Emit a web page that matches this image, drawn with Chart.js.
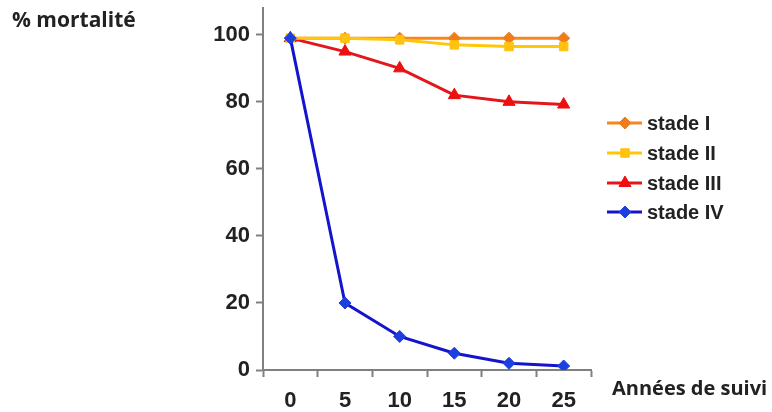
<!DOCTYPE html>
<html><head><meta charset="utf-8">
<script src="https://cdn.jsdelivr.net/npm/chart.js@4"></script>
<style>html,body{margin:0;padding:0;background:#fff}#w{width:772px;height:412px}</style>
</head><body><div id="w"><canvas id="c" width="772" height="412"></canvas></div>
<script>
const categories = ['0','5','10','15','20','25'];
const stadeI   = [99, 99, 99, 99, 99, 99];
const stadeII  = [99, 99, 98.5, 97, 96.5, 96.5];
const stadeIII = [99, 95, 90, 82, 80, 79.2];
const stadeIV  = [99, 20, 10, 5, 2, 1.2];
const seriesNames = ['stade I','stade II','stade III','stade IV'];
const yTicks = [0, 20, 40, 60, 80, 100];

const ds = (label, data, color, mColor, style, r, order) => ({
  label, data, borderColor: color, backgroundColor: mColor, pointBackgroundColor: mColor,
  pointBorderColor: mColor, pointStyle: style, pointRadius: r, pointBorderWidth: 1,
  borderWidth: 3, tension: 0, order
});

const legendPlugin = {
  id: 'customText',
  afterDraw(chart) {
    const ctx = chart.ctx;
    ctx.save();
    ctx.fillStyle = '#222';
    ctx.textBaseline = 'middle';
    ctx.textAlign = 'left';
    ctx.font = 'bold 21px "Open Sans"';
    ctx.fillText('% mortalité', 12, 21);
    ctx.font = 'bold 20px "Open Sans"';
    ctx.fillText('Années de suivi', 612, 389);
    const rows = [123, 153, 183, 212];
    chart.data.datasets.forEach((d, i) => {
      const y = rows[i];
      ctx.strokeStyle = d.borderColor;
      ctx.lineWidth = 3;
      ctx.beginPath(); ctx.moveTo(607, y); ctx.lineTo(642, y); ctx.stroke();
      ctx.fillStyle = d.pointBackgroundColor; ctx.strokeStyle = d.pointBorderColor; ctx.lineWidth = 1;
      Chart.helpers.drawPoint(ctx, {pointStyle: d.pointStyle, radius: d.pointRadius, rotation: 0, borderWidth: 1}, 625, y);
      ctx.fillStyle = '#222';
      ctx.font = 'bold 20px "Liberation Sans"';
      ctx.fillText(d.label, 647, y + 1);
    });
    ctx.restore();
  }
};

new Chart(document.getElementById('c'), {
  type: 'line',
  data: {
    labels: categories,
    datasets: [
      ds(seriesNames[0], stadeI, '#f7861f', '#f07d1a', 'rectRot', 6, 3),
      ds(seriesNames[1], stadeII, '#ffc60a', '#ffc20e', 'rect', 6, 1),
      ds(seriesNames[2], stadeIII, '#e4161c', '#ee1010', 'triangle', 7, 2),
      ds(seriesNames[3], stadeIV, '#1414cc', '#1c3fe0', 'rectRot', 6, 0)
    ]
  },
  options: {
    responsive: false, animation: false, devicePixelRatio: 1,
    layout: { padding: { top: 8, right: 181, left: 0, bottom: 0 } },
    plugins: { legend: { display: false }, tooltip: { enabled: false } },
    scales: {
      x: {
        type: 'category', offset: true,
        grid: { offset: true, drawOnChartArea: false, drawTicks: true, tickLength: 7, color: '#808080', tickWidth: 2 },
        border: { display: true, color: '#808080', width: 2 },
        ticks: { color: '#222', font: { family: 'Liberation Sans', size: 22, weight: 'bold' }, padding: 11, maxRotation: 0 },
        afterFit(s) { s.height = 42; s.paddingLeft = 0; s.paddingRight = 0; }
      },
      y: {
        min: 0, max: 108,
        afterBuildTicks(s) { s.ticks = yTicks.map(v => ({ value: v })); },
        grid: { drawOnChartArea: false, drawTicks: true, tickLength: 7, color: '#808080', tickWidth: 2 },
        border: { display: true, color: '#808080', width: 2 },
        ticks: { color: '#222', font: { family: 'Liberation Sans', size: 22, weight: 'bold' }, padding: 6 },
        afterFit(s) { s.width = 263; s.paddingTop = 0; s.paddingBottom = 0; }
      }
    }
  },
  plugins: [legendPlugin]
});
</script></body></html>
